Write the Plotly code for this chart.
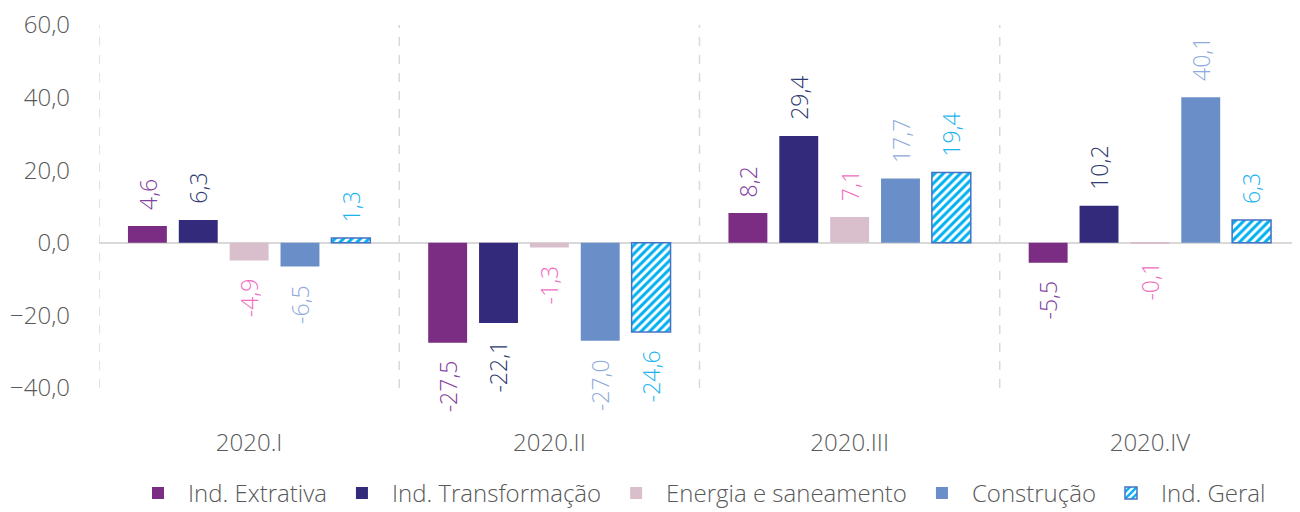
import plotly.graph_objects as go

categories = ["2020.I", "2020.II", "2020.III", "2020.IV"]
series_names = ["Ind. Extrativa", "Ind. Transformação", "Energia e saneamento", "Construção", "Ind. Geral"]
extrativa = [4.6, -27.5, 8.2, -5.5]
transformacao = [6.3, -22.1, 29.4, 10.2]
energia = [-4.9, -1.3, 7.1, -0.1]
construcao = [-6.5, -27.0, 17.7, 40.1]
geral = [1.3, -24.6, 19.4, 6.3]
y_ticks = [-40, -20, 0, 20, 40, 60]

values = [extrativa, transformacao, energia, construcao, geral]
bar_colors = ["#7B2C83", "#332A7C", "#D9BECC", "#6A8FC8", "#FFFFFF"]
text_colors = ["#8240A0", "#2E3A70", "#F06CC0", "#8FAADC", "#1CB4F0"]

FONT = "Open Sans, Segoe UI, sans-serif"
GRAY = "#595959"
BARGAP = 0.153
GROUPGAP = 0.235
n_series = len(series_names)
slot = (1 - BARGAP) / n_series

fig = go.Figure()
for i, (name, vals) in enumerate(zip(series_names, values)):
    marker = dict(color=bar_colors[i], line=dict(width=0))
    if name == "Ind. Geral":
        marker = dict(color="#FFFFFF",
                      pattern=dict(shape="/", fgcolor="#00B0F0", bgcolor="#FFFFFF",
                                   size=6, solidity=0.5, fillmode="replace"),
                      line=dict(color="#4472C4", width=1.5))
    fig.add_trace(go.Bar(x=categories, y=vals, name=name, marker=marker))
    # rotated data labels, placed outside the bar end
    for j, v in enumerate(vals):
        fig.add_annotation(
            x=j + (i - (n_series - 1) / 2) * slot, y=v, xref="x", yref="y",
            text=f"{v:.1f}".replace(".", ","), showarrow=False, textangle=-90,
            yanchor="bottom" if v >= 0 else "top", yshift=14 if v >= 0 else -16,
            font=dict(family=FONT, size=23, color=text_colors[i], weight=300),
        )

# dashed category separators
for b in [-0.5, 0.5, 1.5, 2.5]:
    fig.add_shape(type="line", xref="x", yref="y", x0=b, x1=b, y0=-40, y1=60,
                  line=dict(color="#D9D9D9", width=1.5, dash="dash"), layer="below")

fig.update_layout(
    width=1292, height=504,
    separators=",.",
    paper_bgcolor="white", plot_bgcolor="white",
    margin=dict(l=91, r=0, t=17, b=124, autoexpand=False),
    barmode="group", bargap=BARGAP, bargroupgap=GROUPGAP,
    font=dict(family=FONT, color=GRAY, size=24, weight=300),
    showlegend=True,
    legend=dict(orientation="h", x=0.5, xanchor="center", y=-0.352, yanchor="bottom",
                font=dict(family=FONT, size=24, color=GRAY, weight=300),
                itemwidth=50, tracegroupgap=0),
    xaxis=dict(range=[-0.5, 3.5], showgrid=False, showline=False, ticks="",
               tickfont=dict(size=24, color=GRAY, weight=300), ticklabelstandoff=38),
    yaxis=dict(range=[-40, 60], tickvals=y_ticks, tickformat=".1f", showgrid=False,
               zeroline=True, zerolinecolor="#D9D9D9", zerolinewidth=1.5,
               showline=False, ticks="", ticklabelstandoff=28, ticklabeloverflow="allow",
               tickfont=dict(size=24, color=GRAY, weight=300)),
)

fig.write_html("out.html")
